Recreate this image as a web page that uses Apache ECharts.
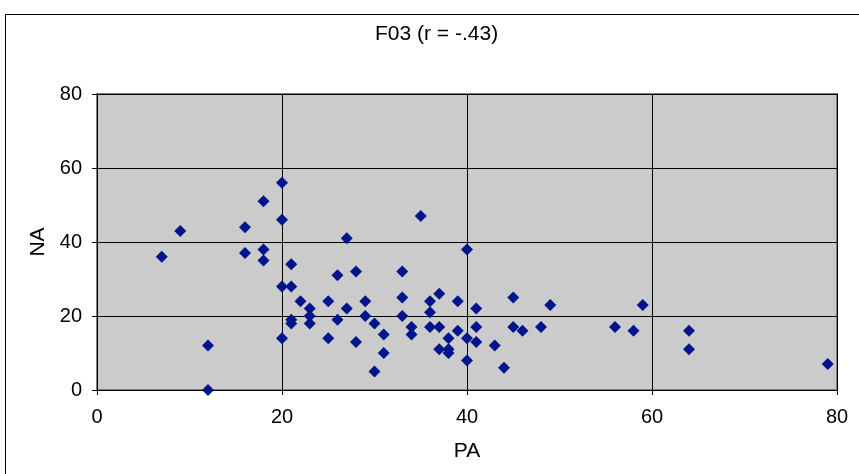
<!DOCTYPE html>
<html>
<head>
<meta charset="utf-8">
<script src="https://cdn.jsdelivr.net/npm/echarts@6/dist/echarts.min.js"></script>
<style>
html,body{margin:0;padding:0;background:#fff;}
#chart{width:859px;height:474px;}
</style>
</head>
<body>
<div id="chart"></div>
<script>
const chartTitle = 'F03 (r = -.43)';
const xAxisName = 'PA';
const yAxisName = 'NA';
const xTicks = [0, 20, 40, 60, 80];
const yTicks = [0, 20, 40, 60, 80];
const paValues = [7, 9, 12, 12, 16, 16, 18, 18, 18, 20, 20, 20, 20, 21, 21, 21, 21, 22, 23, 23, 23, 25, 25, 26, 26, 27, 27, 28, 28, 29, 29, 30, 30, 31, 31, 33, 33, 33, 34, 34, 35, 36, 36, 36, 37, 37, 37, 38, 38, 38, 39, 39, 40, 40, 40, 41, 41, 41, 43, 44, 45, 45, 46, 48, 49, 56, 58, 59, 64, 64, 79];
const naValues = [36, 43, 12, 0, 44, 37, 51, 38, 35, 56, 46, 28, 14, 34, 28, 19, 18, 24, 22, 20, 18, 24, 14, 31, 19, 41, 22, 32, 13, 24, 20, 18, 5, 15, 10, 32, 25, 20, 17, 15, 47, 24, 21, 17, 26, 17, 11, 14, 11, 10, 24, 16, 38, 14, 8, 22, 17, 13, 12, 6, 25, 17, 16, 17, 23, 17, 16, 23, 16, 11, 7];

const points = paValues.map((x, i) => [x, naValues[i]]);
const FONT = '"Liberation Sans", Arial, sans-serif';

const chart = echarts.init(document.getElementById('chart'), null, {renderer: 'canvas'});
chart.setOption({
  backgroundColor: '#ffffff',
  animation: false,
  title: {
    text: chartTitle,
    left: 375,
    top: 24,
    padding: 0,
    textStyle: {fontFamily: FONT, fontSize: 21, fontWeight: 'normal', color: '#000'}
  },
  graphic: [{
    type: 'rect',
    shape: {x: 5.5, y: 14.5, width: 900, height: 500},
    style: {fill: 'none', stroke: '#000', lineWidth: 1},
    silent: true,
    z: -1
  }],
  grid: {
    left: 97, right: 22, top: 94, bottom: 84,
    show: true,
    backgroundColor: '#CBCBCB',
    borderColor: '#808080',
    borderWidth: 2
  },
  xAxis: {
    type: 'value',
    min: xTicks[0], max: xTicks[xTicks.length - 1], interval: 20,
    name: xAxisName,
    nameLocation: 'middle',
    nameGap: 51,
    nameTextStyle: {fontFamily: FONT, fontSize: 21, color: '#000'},
    axisLine: {show: true, onZero: false, lineStyle: {color: '#000', width: 1}},
    axisTick: {show: true, length: 5, lineStyle: {color: '#000'}},
    axisLabel: {fontFamily: FONT, fontSize: 20, color: '#000', margin: 17},
    splitLine: {show: true, lineStyle: {color: '#000', width: 1}}
  },
  yAxis: {
    type: 'value',
    min: yTicks[0], max: yTicks[yTicks.length - 1], interval: 20,
    name: yAxisName,
    nameLocation: 'middle',
    nameGap: 47,
    nameTextStyle: {fontFamily: FONT, fontSize: 21, color: '#000'},
    axisLine: {show: true, onZero: false, lineStyle: {color: '#000', width: 1}},
    axisTick: {show: true, length: 5, lineStyle: {color: '#000'}},
    axisLabel: {fontFamily: FONT, fontSize: 20, color: '#000', margin: 15},
    splitLine: {show: true, lineStyle: {color: '#000', width: 1}}
  },
  series: [{
    type: 'scatter',
    data: points,
    symbol: 'diamond',
    symbolSize: 12,
    itemStyle: {color: '#00148C', opacity: 1},
    clip: false
  }]
});
</script>
</body>
</html>
